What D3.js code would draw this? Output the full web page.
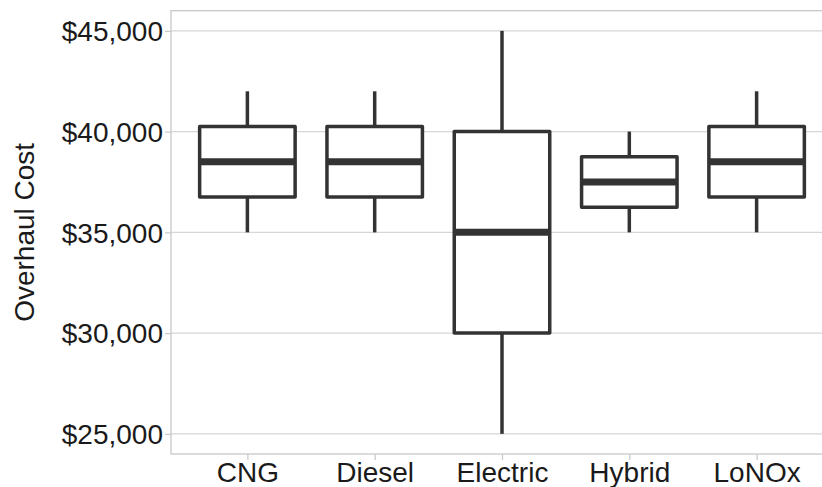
<!DOCTYPE html>
<html>
<head>
<meta charset="utf-8">
<script src="https://cdn.jsdelivr.net/npm/d3@7"></script>
<style>
  html, body { margin: 0; padding: 0; background: #ffffff; }
  svg { display: block; }
  text { font-family: "Liberation Sans", Arial, sans-serif; }
</style>
</head>
<body>
<svg id="chart" width="822" height="487"></svg>
<script>
const categories = ["CNG", "Diesel", "Electric", "Hybrid", "LoNOx"];
const whiskerLow  = [35000, 35000, 25000, 35000, 35000];
const q1          = [36750, 36750, 30000, 36250, 36750];
const medians     = [38500, 38500, 35000, 37500, 38500];
const q3          = [40250, 40250, 40000, 38750, 40250];
const whiskerHigh = [42000, 42000, 45000, 40000, 42000];
const yTicks = [25000, 30000, 35000, 40000, 45000];
const yTitle = "Overhaul Cost";

(function () {
const svg = d3.select("#chart");
const pL = 171, pT = 10.7, pB = 454, pR = 833;

const x = d3.scalePoint().domain(categories).range([pL, pR]).padding(0.6);
const y = d3.scaleLinear().domain([24000, 46000]).range([pB, pT]);
const boxW = x.step() * 0.75;

const grid = "#d6d6d6", border = "#c8c8c8", ink = "#333333", txt = "#1a1a1a";

// gridlines
svg.append("g").selectAll("line").data(yTicks).join("line")
  .attr("x1", pL).attr("x2", pR)
  .attr("y1", d => y(d)).attr("y2", d => y(d))
  .attr("stroke", grid).attr("stroke-width", 1.2);

// panel border
svg.append("rect").attr("x", pL).attr("y", pT)
  .attr("width", pR - pL).attr("height", pB - pT)
  .attr("fill", "none").attr("stroke", border).attr("stroke-width", 1.3);

// y axis
const yAxis = d3.axisLeft(y).tickValues(yTicks).tickSize(6).tickPadding(2)
  .tickFormat(d => "$" + d3.format(",")(d));
const gy = svg.append("g").attr("transform", `translate(${pL},0)`).call(yAxis);
gy.select(".domain").remove();
gy.selectAll(".tick line").attr("stroke", border).attr("stroke-width", 1.2);
gy.selectAll(".tick text").attr("fill", txt).style("font-size", "28px")
  .attr("dy", "0.35em");

// x axis
const xAxis = d3.axisBottom(x).tickSize(6).tickPadding(2);
const gx = svg.append("g").attr("transform", `translate(0,${pB})`).call(xAxis);
gx.select(".domain").remove();
gx.selectAll(".tick line").attr("stroke", border).attr("stroke-width", 1.2);
gx.selectAll(".tick text").attr("fill", txt).style("font-size", "28px")
  .attr("dy", "0.71em");

// y title
svg.append("text")
  .attr("transform", `translate(33.5,${(pT + pB) / 2}) rotate(-90)`)
  .attr("text-anchor", "middle")
  .attr("fill", txt)
  .style("font-size", "28px")
  .text(yTitle);

// boxes
const g = svg.append("g");
categories.forEach((c, i) => {
  const cx = x(c);
  g.append("line").attr("x1", cx).attr("x2", cx)
    .attr("y1", y(whiskerHigh[i])).attr("y2", y(q3[i]))
    .attr("stroke", ink).attr("stroke-width", 3.5);
  g.append("line").attr("x1", cx).attr("x2", cx)
    .attr("y1", y(q1[i])).attr("y2", y(whiskerLow[i]))
    .attr("stroke", ink).attr("stroke-width", 3.5);
  g.append("rect")
    .attr("x", cx - boxW / 2).attr("y", y(q3[i]))
    .attr("width", boxW).attr("height", y(q1[i]) - y(q3[i]))
    .attr("fill", "#ffffff").attr("stroke", ink).attr("stroke-width", 3.5)
    .attr("stroke-linejoin", "round");
  g.append("line")
    .attr("x1", cx - boxW / 2).attr("x2", cx + boxW / 2)
    .attr("y1", y(medians[i])).attr("y2", y(medians[i]))
    .attr("stroke", ink).attr("stroke-width", 7);
});
})();
</script>
</body>
</html>
